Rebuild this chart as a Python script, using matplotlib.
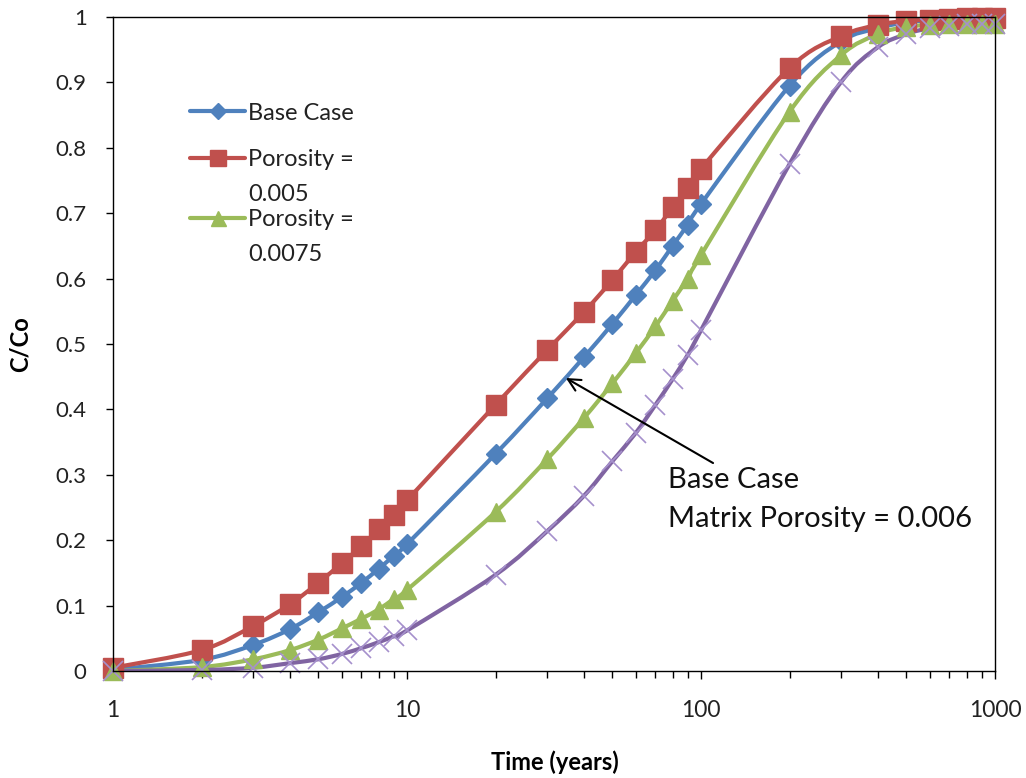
import numpy as np
import matplotlib
matplotlib.use("Agg")
import matplotlib.pyplot as plt
from matplotlib.path import Path
from matplotlib.patches import PathPatch
from matplotlib.lines import Line2D

plt.rcParams['font.family'] = ['Lato', 'DejaVu Sans']

# ---- data ----
time_years = [1, 2, 3, 4, 5, 6, 7, 8, 9, 10,
              20, 30, 40, 50, 60, 70, 80, 90, 100,
              200, 300, 400, 500, 600, 700, 800, 900, 1000]

base_case = [0.002, 0.017, 0.040, 0.064, 0.090, 0.113, 0.135, 0.156, 0.176, 0.194,
             0.332, 0.417, 0.480, 0.531, 0.575, 0.613, 0.650, 0.682, 0.714,
             0.895, 0.963, 0.983, 0.992, 0.995, 0.996, 0.997, 0.997, 0.998]

porosity_005 = [0.005, 0.032, 0.069, 0.102, 0.135, 0.165, 0.191, 0.217, 0.239, 0.261,
                0.407, 0.491, 0.549, 0.598, 0.641, 0.674, 0.709, 0.739, 0.768,
                0.922, 0.971, 0.988, 0.994, 0.996, 0.997, 0.998, 0.998, 0.999]

porosity_0075 = [0.000, 0.006, 0.018, 0.032, 0.048, 0.065, 0.080, 0.094, 0.110, 0.124,
                 0.243, 0.324, 0.387, 0.440, 0.486, 0.527, 0.566, 0.600, 0.636,
                 0.855, 0.942, 0.974, 0.985, 0.988, 0.989, 0.990, 0.990, 0.990]

porosity_01 = [0.000, 0.0015, 0.005, 0.012, 0.018, 0.026, 0.035, 0.044, 0.053, 0.062,
               0.147, 0.214, 0.268, 0.321, 0.364, 0.407, 0.446, 0.483, 0.521,
               0.775, 0.901, 0.954, 0.974, 0.983, 0.987, 0.989, 0.990, 0.990]

legend_labels = ['Base Case', 'Porosity =\n0.005', 'Porosity =\n0.0075', None]

y_ticks = [0, 0.1, 0.2, 0.3, 0.4, 0.5, 0.6, 0.7, 0.8, 0.9, 1]
y_tick_labels = ['0', '0.1', '0.2', '0.3', '0.4', '0.5', '0.6', '0.7', '0.8', '0.9', '1']
x_ticks = [1, 10, 100, 1000]
x_tick_labels = ['1', '10', '100', '1000']

# ---- figure ----
fig = plt.figure(figsize=(10.26, 7.78), dpi=100)
ax = fig.add_axes([113/1026, 1-671/778, (995-113)/1026, (671-17)/778])
ax.set_xscale('log')
ax.set_xlim(1, 1000)
ax.set_ylim(0, 1)


def smooth_path(x, y):
    """Excel-like smoothed line as cubic Bezier segments (tangents in log-x space)."""
    lx = np.log10(np.asarray(x, float))
    yy = np.asarray(y, float)
    n = len(lx)
    verts = [(x[0], yy[0])]
    codes = [Path.MOVETO]
    for i in range(n - 1):
        i0 = max(i - 1, 0)
        i3 = min(i + 2, n - 1)
        c1x = lx[i] + (lx[i + 1] - lx[i0]) / 6.0
        c1y = yy[i] + (yy[i + 1] - yy[i0]) / 6.0
        c2x = lx[i + 1] - (lx[i3] - lx[i]) / 6.0
        c2y = yy[i + 1] - (yy[i3] - yy[i]) / 6.0
        verts += [(10 ** c1x, c1y), (10 ** c2x, c2y), (x[i + 1], yy[i + 1])]
        codes += [Path.CURVE4] * 3
    return Path(verts, codes)


styles = [
    ('#4F81BD', 'D', 10.5, '#4F81BD', 1.0),
    ('#C0504D', 's', 14, '#C0504D', 1.0),
    ('#9BBB59', '^', 13.5, '#9BBB59', 1.0),
    ('#8064A2', 'x', 14, '#A590CC', 1.2),
]
all_series = [base_case, porosity_005, porosity_0075, porosity_01]

for vals, (col, mk, ms, mcol, mew) in zip(all_series, styles):
    ax.add_patch(PathPatch(smooth_path(time_years, vals), facecolor='none',
                           edgecolor=col, lw=3.0, capstyle='round', joinstyle='round'))
    ax.plot(time_years, vals, linestyle='none', marker=mk, markersize=ms,
            color=mcol, markeredgecolor=mcol, markeredgewidth=mew, clip_on=False)

# ---- legend (Excel-style layout, drawn in axes-fraction coordinates) ----
leg_rows_px = [111, 158, 218]          # vertical centre of each entry's first line
hx0, hx1, tx = 190, 245, 248           # handle start/end and text start (pixels)
to_fx = lambda px: (px - 113) / 882
to_fy = lambda py: (671 - py) / 654
for lab, (col, mk, ms, mcol, mew), ypx in zip(legend_labels, styles, leg_rows_px):
    if lab is None:
        continue
    fy = to_fy(ypx)
    ax.add_line(Line2D([to_fx(hx0), to_fx(hx1)], [fy, fy], transform=ax.transAxes,
                       color=col, lw=3.0, solid_capstyle='round', clip_on=False))
    ax.add_line(Line2D([to_fx((hx0 + hx1) / 2)], [fy], transform=ax.transAxes,
                       linestyle='none', marker=mk, markersize=ms * 0.8,
                       color=mcol, markeredgecolor=mcol, clip_on=False))
    ty = to_fy(ypx + 10) if '\n' in lab else fy
    ax.text(to_fx(tx), ty, lab, transform=ax.transAxes, ha='left',
            va='center_baseline', fontsize=17, linespacing=1.82, color='#222222')

# ---- axes styling ----
ax.set_yticks(y_ticks)
ax.set_yticklabels(y_tick_labels)
ax.set_xticks(x_ticks)
ax.set_xticklabels(x_tick_labels)
ax.xaxis.set_minor_locator(matplotlib.ticker.LogLocator(base=10, subs=np.arange(2, 10)))
ax.xaxis.set_minor_formatter(matplotlib.ticker.NullFormatter())
ax.tick_params(axis='y', which='major', direction='out', length=5, width=1,
               pad=14, labelsize=16, labelcolor='#222222')
ax.tick_params(axis='x', which='major', direction='out', length=6, width=1,
               pad=15, labelsize=16.5, labelcolor='#222222')
ax.tick_params(axis='x', which='minor', direction='out', length=5, width=1)
for s in ax.spines.values():
    s.set_linewidth(1.0)
    s.set_color('black')

fig.text(20/1026, 1-344/778, 'C/Co', rotation=90, ha='center', va='center',
         fontsize=17, fontweight='bold')
fig.text(555/1026, 1-762/778, 'Time (years)', ha='center', va='center',
         fontsize=17, fontweight='bold')

# ---- annotation ----
ax.annotate('', xy=(34.7, 0.448), xytext=(109.9, 0.318),
            arrowprops=dict(arrowstyle='->', color='black', lw=1.5,
                            mutation_scale=22, shrinkA=0, shrinkB=0))
ax.text(77.2, (671 - 490) / 654, 'Base Case\nMatrix Porosity = 0.006', ha='left',
        va='center_baseline', fontsize=21, linespacing=1.64, color='#111111')

fig.savefig('out.png', dpi=100)
